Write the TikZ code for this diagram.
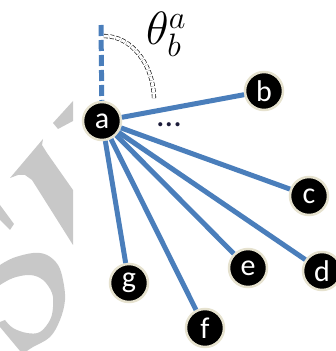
\documentclass[tikz,border=0pt]{standalone}
\usepackage{fontspec}
\setmainfont{Carlito}
\definecolor{edgeblue}{HTML}{4A7EBB}
\definecolor{ringbeige}{HTML}{E6E2CF}
\definecolor{wmgray}{HTML}{C8C8C8}
\definecolor{dotnavy}{HTML}{1C1C3A}
\begin{document}
\begin{tikzpicture}[x=1pt, y=1pt,
    vert/.style={circle, fill=black, draw=ringbeige, line width=2.5pt, inner sep=0pt,
      minimum size=38pt, text=white, font=\fontsize{30}{30}\selectfont},
    link/.style={edgeblue, line width=5pt},
    wmark/.style={fill=wmgray}]
  \useasboundingbox (0,0) rectangle (336,351);

  \fill[wmark] (53,228) -- (73,250) -- (73,230) -- (58,222) -- cycle;
  \fill[wmark] (43,212) -- (10,173) -- (18,176) -- (25,176) -- (32,171) -- (73,106)
    -- (73,161) -- (47,198) -- (42,206) -- cycle;
  \fill[wmark] (0,146) -- (14,127) -- (10,121) -- (0,131) -- cycle;
  \fill[wmark] plot[smooth, tension=0.6] coordinates {(0,86) (13,93) (33,98) (47,96) (58,86)
      (63,71) (65,51) (60,31) (50,14) (33,4) (27,0)}
    -- (20,0) -- (0,24) -- (0,29)
    -- plot[smooth, tension=0.6] coordinates {(5,31) (13,23) (27,18) (40,19) (50,31) (53,44)
      (52,58) (43,71) (30,76) (13,73) (0,66)}
    -- cycle;

  \node[vert] (a) at (102,230) {a};
  \node[vert] (b) at (264,260) {b};
  \node[vert] (c) at (309,155) {c};
  \node[vert] (d) at (322,80) {d};
  \node[vert] (e) at (248,83) {e};
  \node[vert] (f) at (205,23) {f};
  \node[vert] (g) at (129,68) {g};
  \coordinate (top) at (101,326);

  \draw[link, dash pattern=on 11pt off 4pt] (top) -- (a);
  \foreach \n in {b,c,d,e,f,g}
    \draw[link] (a) -- (\n);

  \draw[black, line width=0.6pt, double, double distance=3pt, dash pattern=on 4pt off 2pt]
    (104,315) arc[start angle=90, end angle=0, x radius=50, y radius=64];
  \node[anchor=base west, inner sep=0pt, font=\fontsize{20}{20}\selectfont] (theta) at (146,306)
    {\scalebox{2.25}{$\theta_b^a$}};
  \node[anchor=base, font=\fontsize{34}{34}\selectfont, text=dotnavy] (dots) at (169,224) {...};
\end{tikzpicture}
\end{document}
